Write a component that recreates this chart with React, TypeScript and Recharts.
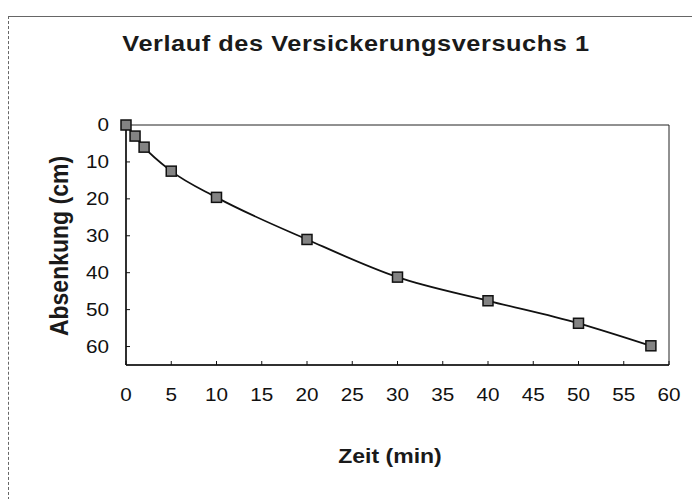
import { LineChart, Line, XAxis, YAxis, ReferenceArea } from 'recharts'

const zeit = [0, 1, 2, 5, 10, 20, 30, 40, 50, 58]
const absenkung = [0, 3, 6, 12.5, 19.6, 31, 41.2, 47.6, 53.7, 59.8]
const xTicks = [0, 5, 10, 15, 20, 25, 30, 35, 40, 45, 50, 55, 60]
const yTicks = [0, 10, 20, 30, 40, 50, 60]

const data = zeit.map((t, i) => ({ t, s: absenkung[i] }))

const font = '"Liberation Sans", Arial, sans-serif'
// the scan is a little wider than tall, so the text is stretched sideways
const stretch = 1.15

function SquareDot(props: any) {
  const { cx, cy } = props
  if (cx == null || cy == null) return null
  return (
    <rect
      x={cx - 5}
      y={cy - 5}
      width={10}
      height={10}
      fill="#838383"
      stroke="#111"
      strokeWidth={1.5}
    />
  )
}

function XTick(props: any) {
  const { x, y, payload } = props
  return (
    <g transform={`translate(${x},${y}) scale(${stretch},1)`}>
      <text x={0} y={0} dy="0.71em" textAnchor="middle" fontSize={18} fill="#111" fontFamily={font}>
        {payload.value}
      </text>
    </g>
  )
}

function YTick(props: any) {
  const { x, y, payload } = props
  return (
    <g transform={`translate(${x},${y}) scale(${stretch},1)`}>
      <text x={0} y={0} dy="0.355em" textAnchor="end" fontSize={18} fill="#111" fontFamily={font}>
        {payload.value}
      </text>
    </g>
  )
}

export default function App() {
  return (
    <div
      style={{
        position: 'absolute',
        left: 0,
        top: 0,
        width: 692,
        height: 499,
        background: '#fff',
        fontFamily: font,
        overflow: 'hidden',
      }}
    >
      <div
        style={{
          position: 'absolute',
          left: 8,
          top: 16,
          width: 684,
          height: 483,
          borderTop: '1px solid #666',
          borderLeft: '1px dashed #666',
        }}
      />
      <div
        style={{
          position: 'absolute',
          left: 356,
          top: 44,
          transform: `translate(-50%, -50%) scaleX(${stretch})`,
          whiteSpace: 'nowrap',
          fontSize: 22,
          fontWeight: 'bold',
          letterSpacing: 0.5,
          color: '#1a1a1a',
        }}
      >
        Verlauf des Versickerungsversuchs 1
      </div>
      <div
        style={{
          position: 'absolute',
          left: 59,
          top: 246,
          transform: `translate(-50%, -50%) scaleX(${stretch}) rotate(-90deg)`,
          whiteSpace: 'nowrap',
          fontSize: 23,
          fontWeight: 'bold',
          color: '#1a1a1a',
        }}
      >
        Absenkung (cm)
      </div>
      <div
        style={{
          position: 'absolute',
          left: 390,
          top: 456,
          transform: `translate(-50%, -50%) scaleX(${stretch})`,
          whiteSpace: 'nowrap',
          fontSize: 20,
          fontWeight: 'bold',
          color: '#1a1a1a',
        }}
      >
        Zeit (min)
      </div>
      <LineChart
        width={692}
        height={499}
        data={data}
        margin={{ top: 125, right: 23, bottom: 104, left: 66 }}
        style={{ position: 'absolute', left: 0, top: 0 }}
      >
        <ReferenceArea x1={0} x2={60} y1={0} y2={65} fill="none" stroke="#222" strokeWidth={1} />
        <XAxis
          type="number"
          dataKey="t"
          domain={[0, 60]}
          ticks={xTicks}
          interval={0}
          height={30}
          tickSize={-4}
          tickMargin={27}
          axisLine={{ stroke: '#111', strokeWidth: 1.5 }}
          tickLine={{ stroke: '#111' }}
          tick={<XTick />}
        />
        <YAxis
          type="number"
          dataKey="s"
          reversed
          domain={[0, 65]}
          ticks={yTicks}
          interval={0}
          width={60}
          tickSize={-4}
          tickMargin={21}
          axisLine={{ stroke: '#111', strokeWidth: 1.5 }}
          tickLine={{ stroke: '#111' }}
          tick={<YTick />}
        />
        <Line
          type="monotone"
          dataKey="s"
          stroke="#111"
          strokeWidth={1.8}
          dot={<SquareDot />}
          activeDot={false}
          isAnimationActive={false}
        />
      </LineChart>
    </div>
  )
}
